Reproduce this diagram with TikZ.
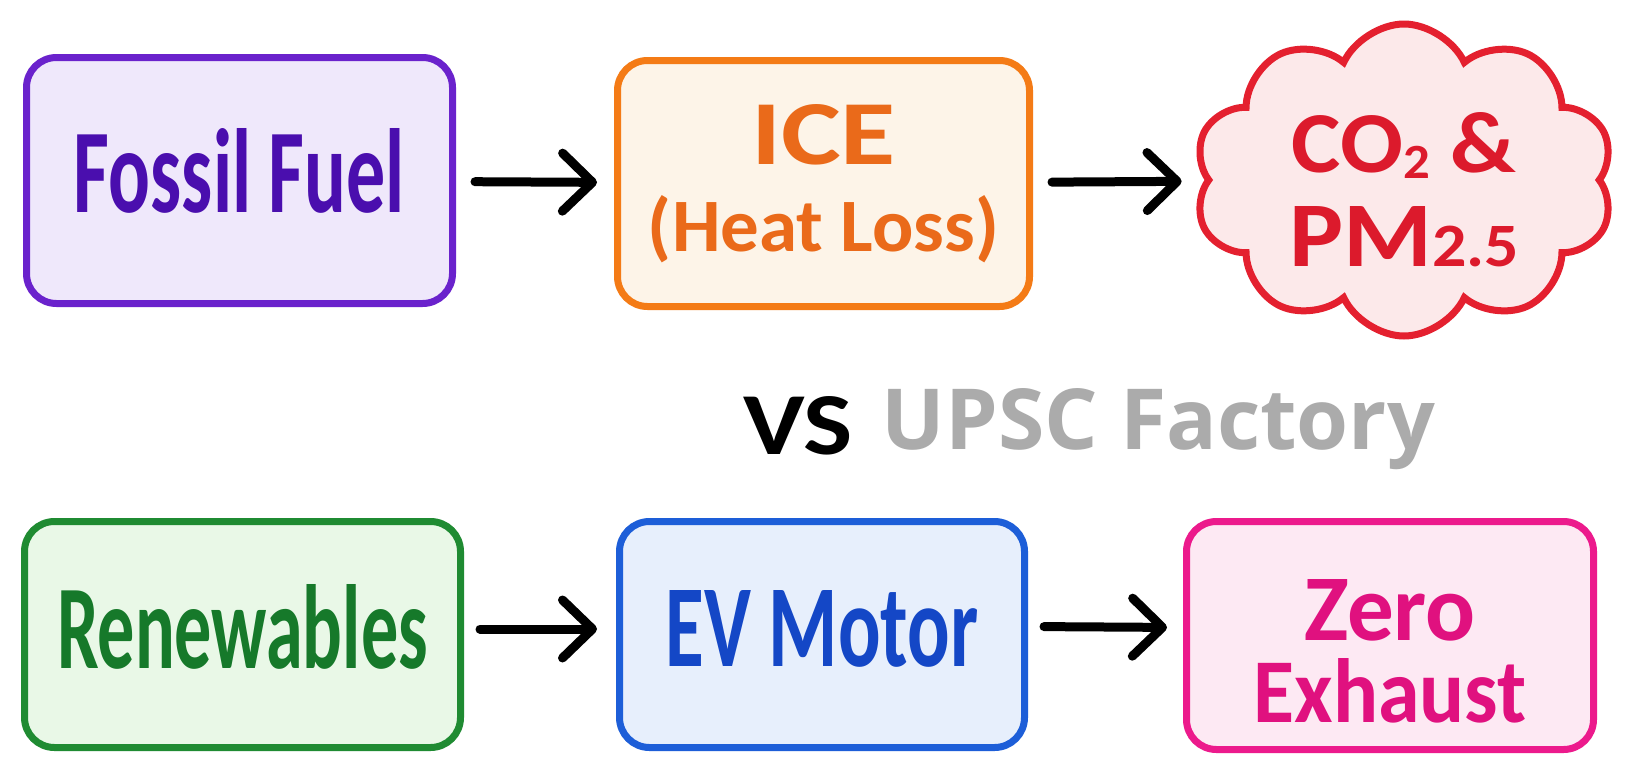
\documentclass[tikz,border=0pt]{standalone}
\usepackage{fontspec}
\usepackage{graphicx}
\usetikzlibrary{arrows.meta,shapes.symbols}
\setmainfont{Carlito}
\newfontfamily\handfont{Carlito}
\newfontfamily\logofont{Open Sans}
\definecolor{pD}{HTML}{6A22CC}
\definecolor{pF}{HTML}{EFE8FB}
\definecolor{pT}{HTML}{4A0EAE}
\definecolor{oD}{HTML}{F47B16}
\definecolor{oF}{HTML}{FDF4E8}
\definecolor{oT}{HTML}{EA6A1A}
\definecolor{rD}{HTML}{E4202F}
\definecolor{rF}{HTML}{FCE9EA}
\definecolor{rT}{HTML}{DC1A2C}
\definecolor{gD}{HTML}{1F8B32}
\definecolor{gF}{HTML}{E9F8E7}
\definecolor{gT}{HTML}{16792A}
\definecolor{bD}{HTML}{1D5ED8}
\definecolor{bF}{HTML}{E7EFFC}
\definecolor{bT}{HTML}{1447C6}
\definecolor{kD}{HTML}{EC1A8C}
\definecolor{kF}{HTML}{FDE9F3}
\definecolor{kT}{HTML}{E0117F}
\definecolor{wmgray}{HTML}{ABABAB}
\newcommand\mydepth[1]{\rule[-#1]{0pt}{#1}}
\newcommand\myheight[1]{\rule{0pt}{#1}}
\begin{document}
\begin{tikzpicture}[x=1pt,y=-1pt,
  box/.style={draw, line width=7pt, rounded corners=30pt, inner sep=0pt, align=center},
  hand/.style={font=\handfont\bfseries\fontsize{60}{#1}\selectfont},
  arr/.style={line width=9pt, line cap=round,
    -{Straight Barb[length=30pt,width=58pt,line width=9pt,round]}},
]
\fill[white] (0,0) rectangle (1636,777);
\useasboundingbox (0,0) rectangle (1636,777);

\node[box, draw=pD, fill=pF, text=pT, minimum width=426pt, minimum height=246pt, hand=70pt]
  (fossil) at (239.5,180.5) {\resizebox{331pt}{84pt}{Fossil Fuel}\mydepth{21pt}};

\node[box, draw=oD, fill=oF, text=oT, minimum width=412pt, minimum height=246pt, hand=87pt]
  (ice) at (823.5,183.5) {\resizebox{145pt}{60pt}{ICE}\\\resizebox{351pt}{56pt}{(Heat Loss)}};

\node[cloud, cloud puffs=10, cloud puff arc=130, cloud ignores aspect, draw=rD, fill=rF, text=rT,
  line width=7pt, minimum width=420pt, minimum height=312pt, inner sep=0pt, align=center, hand=94pt]
  (cloud) at (1404,180)
  {\myheight{80pt}\resizebox{225pt}{60pt}{CO{\fontsize{34}{34}\selectfont\raisebox{-4pt}{2}} \&}\\
   \resizebox{230pt}{60pt}{PM{\fontsize{40}{40}\selectfont 2.5}}};

\node[box, draw=gD, fill=gF, text=gT, minimum width=436pt, minimum height=226pt, hand=70pt]
  (renew) at (242.5,634.5) {\resizebox{371pt}{84pt}{Renewables}\mydepth{17pt}};

\node[box, draw=bD, fill=bF, text=bT, minimum width=405pt, minimum height=226pt, hand=70pt]
  (ev) at (822,634.5) {\resizebox{313pt}{76pt}{EV Motor}\mydepth{13pt}};

\node[box, draw=kD, fill=kF, text=kT, minimum width=407pt, minimum height=228pt, hand=82pt]
  (zero) at (1390,635.5) {\myheight{93pt}\resizebox{172pt}{61pt}{Zero}\\\resizebox{273pt}{64pt}{Exhaust}};

\node[font=\handfont\bfseries\fontsize{60}{60}\selectfont, anchor=base, inner sep=0pt]
  (vs) at (798,454) {\resizebox{110pt}{58pt}{VS}};
\node[font=\logofont\bfseries\fontsize{60}{60}\selectfont, text=wmgray, anchor=base, inner sep=0pt]
  (wm) at (1158.5,449) {\resizebox{553pt}{61pt}{UPSC Factory}};

\draw[arr, shorten <=19pt, shorten >=17pt] (fossil) -- (ice);
\draw[arr, shorten <=19pt, shorten >=22pt] (ice) -- (cloud);
\draw[arr, shorten <=16pt, shorten >=19pt] ([yshift=5.5pt]renew.east) -- ([yshift=5.5pt]ev.west);
\draw[arr, shorten <=16pt, shorten >=16pt] ([yshift=8pt]ev.east) -- ([yshift=8pt]zero.west);
\end{tikzpicture}
\end{document}
